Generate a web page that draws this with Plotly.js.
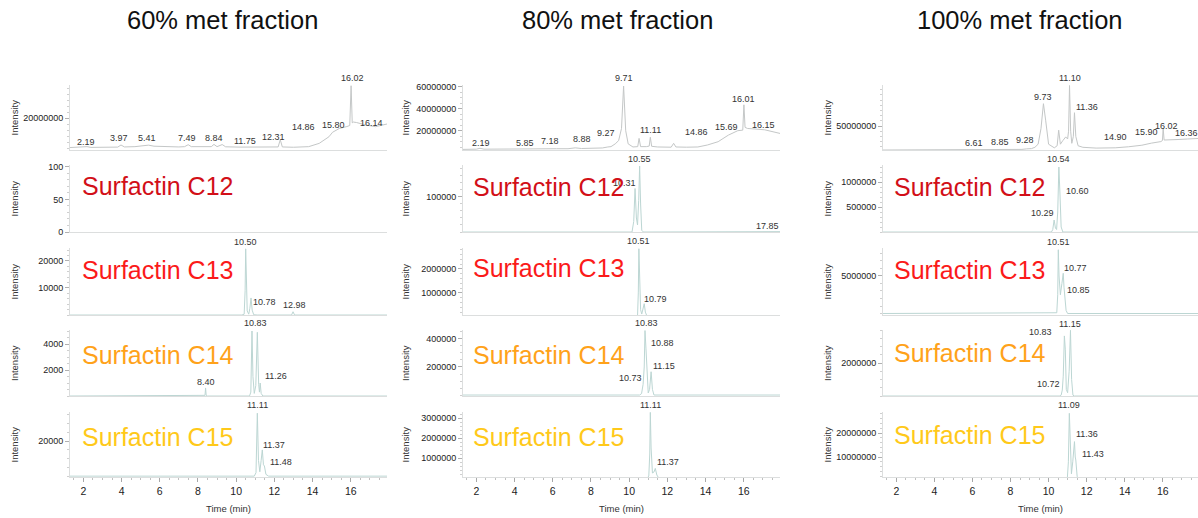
<!DOCTYPE html>
<html><head><meta charset="utf-8">
<script src="https://cdn.plot.ly/plotly-3.0.1.min.js"></script>
<style>html,body{margin:0;padding:0;background:#fff;}#chart{width:1198px;height:518px;}</style>
</head><body><div id="chart"></div>
<script>
// ---------------- DATA ----------------
const columnTitles = ["60% met fraction", "80% met fraction", "100% met fraction"];
const traceNames = ["TIC", "Surfactin C12", "Surfactin C13", "Surfactin C14", "Surfactin C15"];
const xTickVals = [2, 4, 6, 8, 10, 12, 14, 16];

// 60% fraction
const t60_tic = [1.3, 2.0, 2.19, 2.4, 3.0, 3.8, 3.97, 4.15, 4.7, 5.1, 5.41, 5.7, 6.3, 7.0, 7.3, 7.49, 7.65, 8.2, 8.7, 8.84, 9.0, 9.27, 9.45, 10.2, 11.0, 11.75, 12.2, 12.31, 12.42, 13.0, 13.8, 14.35, 14.86, 15.05, 15.4, 15.80, 15.95, 16.02, 16.08, 16.14, 16.3, 16.8, 17.3, 17.9];
const i60_tic = [0.3e6, 0.4e6, 0.9e6, 0.4e6, 0.4e6, 0.6e6, 2.0e6, 0.7e6, 0.9e6, 1.3e6, 1.9e6, 1.2e6, 0.8e6, 0.7e6, 0.9e6, 2.2e6, 0.9e6, 0.7e6, 0.9e6, 2.4e6, 0.9e6, 2.3e6, 0.8e6, 0.6e6, 0.6e6, 0.8e6, 0.7e6, 5.5e6, 0.7e6, 0.5e6, 0.9e6, 3.1e6, 7.5e6, 10.5e6, 13.0e6, 14.3e6, 15.0e6, 41.5e6, 16.8e6, 17.3e6, 17.0e6, 15.3e6, 14.2e6, 16.0e6];
const lab60_tic = [2.19, 3.97, 5.41, 7.49, 8.84, 11.75, 12.31, 14.86, 15.80, 16.02, 16.14];
const t60_c12 = [];
const i60_c12 = [];
const lab60_c12 = [];
const t60_c13 = [1.3, 10.3, 10.42, 10.47, 10.50, 10.53, 10.58, 10.66, 10.72, 10.78, 10.84, 10.92, 11.1, 12.9, 12.98, 13.06, 17.9];
const i60_c13 = [0, 0, 300, 9000, 24500, 14000, 1500, 300, 2500, 6300, 1800, 100, 0, 0, 1200, 0, 0];
const lab60_c13 = [10.50, 10.78, 12.98];
const t60_c14 = [1.3, 8.3, 8.37, 8.40, 8.43, 8.5, 10.7, 10.77, 10.83, 10.88, 10.95, 11.03, 11.11, 11.18, 11.22, 11.26, 11.31, 11.4, 17.9];
const i60_c14 = [0, 0, 50, 620, 50, 0, 0, 300, 5000, 1500, 200, 800, 4900, 900, 300, 1000, 200, 0, 0];
const lab60_c14 = [8.40, 10.83, 11.26];
const t60_c15 = [1.3, 10.95, 11.04, 11.11, 11.17, 11.24, 11.31, 11.37, 11.43, 11.48, 11.56, 11.7, 17.9];
const i60_c15 = [0, 0, 2000, 36000, 9000, 2500, 9000, 15000, 6500, 5800, 1000, 0, 0];
const lab60_c15 = [11.11, 11.37, 11.48];

// 80% fraction
const t80_tic = [1.3, 2.0, 2.19, 2.4, 3.5, 4.5, 5.5, 5.85, 6.2, 6.8, 7.18, 7.5, 8.3, 8.6, 8.88, 9.05, 9.27, 9.45, 9.6, 9.71, 9.82, 9.95, 10.2, 10.45, 10.52, 10.6, 10.9, 11.05, 11.11, 11.18, 11.5, 12.2, 12.33, 12.45, 13.0, 13.6, 14.1, 14.66, 15.2, 15.69, 15.95, 16.01, 16.07, 16.2, 16.6, 17.1, 17.9];
const i80_tic = [3.0e6, 3.2e6, 4.0e6, 3.2e6, 3.3e6, 3.4e6, 3.6e6, 4.2e6, 3.6e6, 3.6e6, 4.4e6, 3.8e6, 4.0e6, 4.3e6, 5.2e6, 5.5e6, 8.0e6, 11.0e6, 22e6, 60.5e6, 20e6, 8e6, 5.2e6, 5.5e6, 13e6, 5.5e6, 5.5e6, 6e6, 14e6, 5.8e6, 5.2e6, 5.0e6, 8.5e6, 5.2e6, 5.0e6, 5.2e6, 7.0e6, 10e6, 16e6, 20e6, 20.5e6, 43.5e6, 23e6, 22e6, 21.5e6, 20.8e6, 17.5e6];
const lab80_tic = [2.19, 5.85, 7.18, 8.88, 9.27, 9.71, 11.11, 14.86, 15.69, 16.01, 16.15];
const t80_c12 = [1.3, 10.15, 10.24, 10.31, 10.38, 10.44, 10.5, 10.55, 10.6, 10.66, 10.75, 17.7, 17.85, 17.9];
const i80_c12 = [0, 0, 30000, 124000, 40000, 20000, 90000, 188000, 80000, 5000, 0, 0, 1500, 1000];
const lab80_c12 = [10.31, 10.55, 17.85];
const t80_c13 = [1.3, 10.35, 10.44, 10.48, 10.51, 10.55, 10.6, 10.66, 10.73, 10.79, 10.85, 10.95, 17.9];
const i80_c13 = [0, 0, 0.05e6, 1.0e6, 2.84e6, 1.2e6, 0.3e6, 0.12e6, 0.3e6, 0.55e6, 0.2e6, 0, 0];
const lab80_c13 = [10.51, 10.79];
const t80_c14 = [1.3, 10.55, 10.65, 10.73, 10.79, 10.83, 10.88, 10.94, 11.0, 11.07, 11.15, 11.22, 11.3, 17.9];
const i80_c14 = [0, 0, 10000, 75000, 200000, 460000, 335000, 120000, 15000, 40000, 166000, 40000, 0, 0];
const lab80_c14 = [10.73, 10.83, 10.88, 11.15];
const t80_c15 = [1.3, 10.95, 11.03, 11.08, 11.11, 11.15, 11.22, 11.3, 11.37, 11.45, 11.55, 17.9];
const i80_c15 = [0, 0, 0.1e6, 1.2e6, 3.28e6, 1.5e6, 0.25e6, 0.3e6, 0.48e6, 0.15e6, 0, 0];
const lab80_c15 = [11.11, 11.37];

// 100% fraction
const t100_tic = [1.3, 3.0, 5.0, 6.3, 6.61, 6.9, 8.0, 8.6, 8.85, 9.1, 9.28, 9.45, 9.6, 9.73, 9.85, 10.0, 10.3, 10.45, 10.53, 10.62, 10.75, 10.9, 11.0, 11.05, 11.10, 11.16, 11.22, 11.30, 11.36, 11.43, 11.55, 11.8, 12.5, 13.5, 14.2, 14.9, 15.4, 15.9, 15.98, 16.02, 16.07, 16.36, 16.8, 17.3, 17.85];
const i100_tic = [3.8e6, 3.8e6, 3.9e6, 4.0e6, 5.0e6, 4.2e6, 4.5e6, 5.0e6, 6.0e6, 6.5e6, 9.0e6, 15e6, 45e6, 93e6, 60e6, 15e6, 8e6, 12e6, 42e6, 15e6, 22e6, 29e6, 25e6, 40e6, 128e6, 40e6, 16.7e6, 30e6, 75.6e6, 30e6, 12e6, 9e6, 7.5e6, 8e6, 10e6, 13e6, 17e6, 20e6, 22e6, 45e6, 23e6, 23e6, 24e6, 25e6, 26e6];
const lab100_tic = [6.61, 8.85, 9.28, 9.73, 11.10, 11.36, 14.90, 15.90, 16.02, 16.36];
const t100_c12 = [1.3, 10.15, 10.22, 10.29, 10.36, 10.42, 10.48, 10.54, 10.6, 10.66, 10.75, 17.85];
const i100_c12 = [0, 0, 0.05e6, 0.24e6, 0.08e6, 0.05e6, 0.4e6, 1.3e6, 0.74e6, 0.1e6, 0, 0];
const lab100_c12 = [10.29, 10.54, 10.60];
const t100_c13 = [1.3, 10.35, 10.43, 10.48, 10.51, 10.55, 10.62, 10.7, 10.77, 10.81, 10.85, 10.92, 11.0, 17.85];
const i100_c13 = [0, 0, 0.1e6, 2.5e6, 8.5e6, 5.0e6, 2.5e6, 4.0e6, 5.36e6, 3.5e6, 2.47e6, 0.4e6, 0, 0];
const lab100_c13 = [10.51, 10.77, 10.85];
const t100_c14 = [1.3, 10.6, 10.66, 10.72, 10.77, 10.83, 10.88, 10.93, 11.0, 11.08, 11.15, 11.21, 11.28, 11.35, 17.85];
const i100_c14 = [0, 0, 0.05e6, 0.36e6, 1.2e6, 3.64e6, 2.8e6, 0.4e6, 0.2e6, 1.5e6, 3.98e6, 1.0e6, 0.05e6, 0, 0];
const lab100_c14 = [10.72, 10.83, 11.15];
const t100_c15 = [1.3, 10.9, 10.98, 11.04, 11.09, 11.14, 11.2, 11.27, 11.36, 11.4, 11.43, 11.5, 11.6, 17.85];
const i100_c15 = [0, 0, 0.5e6, 8e6, 28.2e6, 12e6, 3e6, 8e6, 16.4e6, 10e6, 8.75e6, 2e6, 0, 0];
const lab100_c15 = [11.09, 11.36, 11.43];

// y-axis tick values per panel [col][row]
const yTicks = [
  [[20000000], [0, 50, 100], [10000, 20000], [2000, 4000], [20000]],
  [[20000000, 40000000, 60000000], [100000], [1000000, 2000000], [200000, 400000], [1000000, 2000000, 3000000]],
  [[50000000], [500000, 1000000], [5000000], [2000000], [10000000, 20000000]]
];

const series = [
  [[t60_tic, i60_tic, lab60_tic], [t60_c12, i60_c12, lab60_c12], [t60_c13, i60_c13, lab60_c13], [t60_c14, i60_c14, lab60_c14], [t60_c15, i60_c15, lab60_c15]],
  [[t80_tic, i80_tic, lab80_tic], [t80_c12, i80_c12, lab80_c12], [t80_c13, i80_c13, lab80_c13], [t80_c14, i80_c14, lab80_c14], [t80_c15, i80_c15, lab80_c15]],
  [[t100_tic, i100_tic, lab100_tic], [t100_c12, i100_c12, lab100_c12], [t100_c13, i100_c13, lab100_c13], [t100_c14, i100_c14, lab100_c14], [t100_c15, i100_c15, lab100_c15]]
];

// ---------------- STYLE / LAYOUT ----------------
const W = 1198, H = 518;
const FONT = "Liberation Sans, Arial, Helvetica, sans-serif";
const colPx = [[70, 387], [463, 780], [883, 1198]];
const colXRange = [[1.3, 17.9], [1.3, 17.9], [1.3, 17.85]];
const rowPx = [[85, 150], [165, 232], [248, 315], [330, 396], [412, 477]];
const yRanges = [
  [[-1.33e6, 42e6], [0, 103], [0, 24800], [0, 5077], [-500, 36700]],
  [[2.45e6, 61.5e6], [0, 191000], [80000, 2.87e6], [-7000, 464000], [50000, 3.3e6]],
  [[3.8e6, 129e6], [0, 1.34e6], [-0.2e6, 8.73e6], [0, 4e6], [1.67e6, 28.75e6]]
];
const yMinor = [
  [4e6, 10, 2000, 500, 5000],
  [5e6, 20000, 200000, 50000, 200000],
  [1e7, 100000, 1e6, 500000, 2e6]
];
// label pixel offsets [dx, dy] per panel
const labOff = [
  [
    [[-1,4.5],[-2,7],[-1,7],[-1,6.7],[0,6.4],[-25,5.8],[-7,2.8],[-25,9.7],[-13,1.5],[1,7.7],[18,-1]],
    [],
    [[0,7],[13,-4],[1,6.8]],
    [[0,6],[4,8.5],[16,7]],
    [[0,8],[12,5],[17,4]]
  ],
  [
    [[1,5],[-25,4.8],[-25.6,7],[-25.7,7.7],[-9,11],[0,7.8],[0,7.3],[-25.5,7.6],[-11.5,4],[0,5.5],[17,3]],
    [[-11,5.6],[0,6.7],[-11.5,5.5]],
    [[0,8],[11.5,5]],
    [[-12.5,6.2],[1.7,7.9],[17,5.4],[13,6.1]],
    [[0,7.4],[13,6.7]]
  ],
  [
    [[-10,6],[-26.7,7],[-10,7.3],[0,6.3],[0,7.3],[12.5,6],[-26,8],[-14,10],[3,3],[17,7.3]],
    [[-11.4,6.7],[0,7.7],[17,4.3]],
    [[0,7.6],[12,5.6],[13.6,5]],
    [[-14,6],[-23.7,4.3],[0,6.7]],
    [[0,8.3],[13,7.4],[17.6,5.7]]
  ]
];
const nameColors = [null, "#d20f18", "#fb1a1a", "#ffa21a", "#ffc91a"];
const nameYpx = [[null, 186, 270, 355, 437], [null, 187, 268, 355, 437], [null, 187, 270, 353, 435]];
const nameXpx = [80, 471, 892];
const titleXpx = [222, 617, 1020];
const intensityXpx = [14, 405, 827];

const px2x = p => p / W;
const px2y = p => 1 - p / H;

function interp(ts, vs, t) {
  if (!ts.length) return 0;
  for (let k = 0; k < ts.length - 1; k++) {
    if (t >= ts[k] && t <= ts[k + 1]) {
      const f = (t - ts[k]) / (ts[k + 1] - ts[k]);
      return vs[k] + f * (vs[k + 1] - vs[k]);
    }
  }
  return vs[vs.length - 1];
}

const traces = [];
const layout = {
  width: W, height: H,
  margin: {l: 0, r: 0, t: 0, b: 0},
  paper_bgcolor: "#ffffff", plot_bgcolor: "#ffffff",
  showlegend: false,
  font: {family: FONT, color: "#222", size: 9},
  annotations: []
};

for (let c = 0; c < 3; c++) {
  for (let r = 0; r < 5; r++) {
    const idx = c * 5 + r;
    const xn = idx === 0 ? "x" : "x" + (idx + 1);
    const yn = idx === 0 ? "y" : "y" + (idx + 1);
    const xKey = idx === 0 ? "xaxis" : "xaxis" + (idx + 1);
    const yKey = idx === 0 ? "yaxis" : "yaxis" + (idx + 1);
    const [ts, vs, labs] = series[c][r];
    traces.push({
      type: "scatter", mode: "lines", x: ts, y: vs,
      xaxis: xn, yaxis: yn,
      line: {color: r === 0 ? "#c4c7c7" : "#bcd6d3", width: 1},
      hoverinfo: "skip", name: traceNames[r]
    });
    const bottom = r === 4;
    layout[xKey] = {
      domain: [px2x(colPx[c][0]), px2x(colPx[c][1])],
      range: colXRange[c], anchor: yn,
      showline: true, linecolor: "#dcdede", linewidth: 1,
      showgrid: false, zeroline: false,
      showticklabels: bottom,
      tickmode: "array", tickvals: xTickVals,
      ticks: bottom ? "outside" : "", ticklen: 4, tickcolor: "#a8a8a8",
      tickfont: {size: 10.5, color: "#222", family: FONT},
      minor: bottom ? {ticks: "outside", ticklen: 2, dtick: 0.5, tick0: 0, tickcolor: "#c0c0c0"} : {ticks: ""},
      fixedrange: true
    };
    layout[yKey] = {
      domain: [px2y(rowPx[r][1]), px2y(rowPx[r][0])],
      range: yRanges[c][r], anchor: xn,
      showline: true, linecolor: "#dcdede", linewidth: 1,
      showgrid: false, zeroline: false,
      tickmode: "array", tickvals: yTicks[c][r], tickformat: "d",
      ticks: "outside", ticklen: 4, tickcolor: "#b0b0b0",
      tickfont: {size: 9, color: "#222", family: FONT},
      minor: {ticks: "outside", ticklen: 2, dtick: yMinor[c][r], tick0: 0, tickcolor: "#cfcfcf"},
      fixedrange: true
    };
    // peak labels
    labs.forEach((t, k) => {
      const off = labOff[c][r][k] || [0, 6];
      layout.annotations.push({
        xref: xn, yref: yn, x: t, y: interp(ts, vs, t),
        text: t.toFixed(2), showarrow: false,
        xanchor: "center", yanchor: "middle",
        xshift: off[0], yshift: off[1],
        font: {size: 9, color: "#333", family: FONT}
      });
    });
    // Intensity label
    layout.annotations.push({
      xref: "paper", yref: "paper",
      x: px2x(intensityXpx[c]), y: px2y((rowPx[r][0] + rowPx[r][1]) / 2),
      text: "Intensity", textangle: -90, showarrow: false,
      xanchor: "center", yanchor: "middle",
      font: {size: 9.5, color: "#333", family: FONT}
    });
    // compound name
    if (r > 0) {
      layout.annotations.push({
        xref: "paper", yref: "paper",
        x: px2x(nameXpx[c]), y: px2y(nameYpx[c][r]),
        text: traceNames[r], showarrow: false,
        xanchor: "left", yanchor: "middle",
        font: {size: 25, color: nameColors[r], family: FONT}
      });
    }
  }
  // column title
  layout.annotations.push({
    xref: "paper", yref: "paper",
    x: px2x(titleXpx[c]), y: px2y(20),
    text: columnTitles[c], showarrow: false,
    xanchor: "center", yanchor: "middle",
    font: {size: 25.5, color: "#111", family: FONT}
  });
  // x title
  layout.annotations.push({
    xref: "paper", yref: "paper",
    x: px2x((colPx[c][0] + colPx[c][1]) / 2), y: px2y(508),
    text: "Time (min)", showarrow: false,
    xanchor: "center", yanchor: "middle",
    font: {size: 9.5, color: "#333", family: FONT}
  });
}

Plotly.newPlot("chart", traces, layout, {staticPlot: true, displayModeBar: false});
</script>
</body></html>
